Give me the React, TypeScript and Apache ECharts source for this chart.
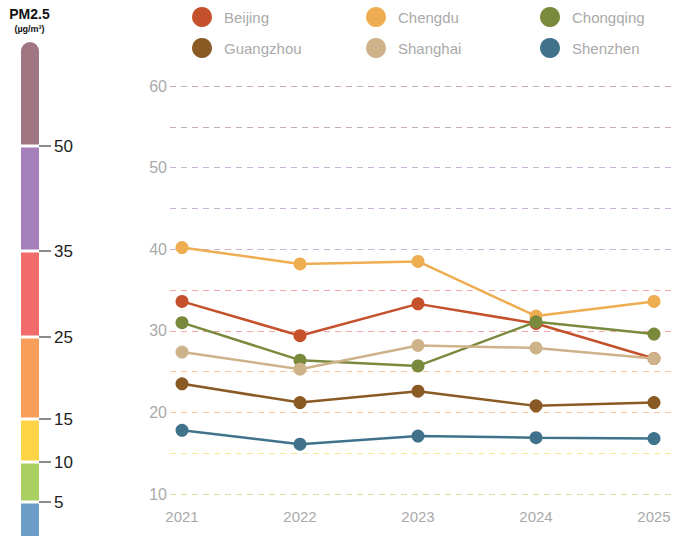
import React, { useEffect, useRef } from 'react';
import * as echarts from 'echarts';

const years = ['2021', '2022', '2023', '2024', '2025'];
const cities = ['Beijing', 'Chengdu', 'Chongqing', 'Guangzhou', 'Shanghai', 'Shenzhen'];
const beijing = [33.6, 29.4, 33.3, 30.9, 26.6];
const chengdu = [40.2, 38.2, 38.5, 31.8, 33.6];
const chongqing = [31.0, 26.4, 25.7, 31.1, 29.6];
const guangzhou = [23.5, 21.2, 22.6, 20.8, 21.2];
const shanghai = [27.4, 25.3, 28.2, 27.9, 26.6];
const shenzhen = [17.8, 16.1, 17.1, 16.9, 16.8];
const cityValues = [beijing, chengdu, chongqing, guangzhou, shanghai, shenzhen];
const cityColors = ['#c4512b', '#efad52', '#798a3d', '#8a5a25', '#ceb28a', '#40738b'];

const yMin = 10;
const yMax = 60;
const yGridStep = 5;
const yLabelStep = 10;

const pm25Thresholds = [5, 10, 15, 25, 35, 50];
const pm25BandColors = ['#6c9ec7', '#abd062', '#fed447', '#f99e58', '#f26b6b', '#a47fba', '#a07683'];

// layout of the colour-bar legend (pixel edges, bottom to top)
const BAR_EDGES = [560, 502, 462, 419, 337, 251, 146, 42];
const BAR_X = 21;
const BAR_W = 18;

const FONT = '"Liberation Sans", Arial, Helvetica, sans-serif';

function hexToRgba(hex: string, a: number) {
  const n = parseInt(hex.slice(1), 16);
  return `rgba(${(n >> 16) & 255},${(n >> 8) & 255},${n & 255},${a})`;
}

function bandIndex(v: number) {
  return pm25Thresholds.filter((t) => t < v).length;
}

export default function App() {
  const ref = useRef<HTMLDivElement>(null);
  useEffect(() => {
    document.body.style.margin = '0';
    if (!ref.current) return;
    const chart = echarts.init(ref.current, null, { renderer: 'svg' });

    const gridColors: string[] = [];
    for (let v = yMin; v <= yMax; v += yGridStep) {
      gridColors.push(hexToRgba(pm25BandColors[bandIndex(v)], 0.6));
    }

    const graphics: any[] = [];
    pm25BandColors.forEach((c, i) => {
      const bottom = BAR_EDGES[i];
      const top = BAR_EDGES[i + 1];
      const isTop = i === pm25BandColors.length - 1;
      const y0 = isTop ? top : top + 1.5;
      const y1 = bottom - 1.5;
      graphics.push({
        type: 'rect',
        shape: { x: BAR_X, y: y0, width: BAR_W, height: y1 - y0, r: isTop ? [9, 9, 0, 0] : 0 },
        style: { fill: c },
        silent: true,
      });
    });
    pm25Thresholds.forEach((t, j) => {
      const y = BAR_EDGES[j + 1];
      graphics.push({
        type: 'line',
        shape: { x1: BAR_X + BAR_W, y1: y, x2: BAR_X + BAR_W + 12, y2: y },
        style: { stroke: '#666', lineWidth: 1.5 },
        silent: true,
      });
      graphics.push({
        type: 'text',
        x: BAR_X + BAR_W + 15,
        y,
        style: {
          text: String(t),
          fill: '#222',
          font: `17px ${FONT}`,
          verticalAlign: 'middle',
          align: 'left',
        },
        silent: true,
      });
    });
    graphics.push({
      type: 'text',
      x: 29.5,
      y: 14,
      style: { text: 'PM2.5', fill: '#111', font: `bold 14px ${FONT}`, align: 'center', verticalAlign: 'middle' },
    });
    graphics.push({
      type: 'text',
      x: 29.5,
      y: 29,
      style: { text: '(µg/m³)', fill: '#111', font: `bold 9px ${FONT}`, align: 'center', verticalAlign: 'middle' },
    });

    const legendCols = [
      [cities[0], cities[3]],
      [cities[1], cities[4]],
      [cities[2], cities[5]],
    ];
    const legendLefts = [192, 366, 540];

    const option: any = {
      animation: false,
      grid: [
        { left: 170, right: 5, top: 86, bottom: 42 },
        { left: 182, right: 23, top: 86, bottom: 42 },
      ],
      xAxis: [
        { gridIndex: 0, type: 'category', data: years, show: false },
        {
          gridIndex: 1,
          type: 'category',
          data: years,
          boundaryGap: false,
          axisLine: { show: false },
          axisTick: { show: false },
          splitLine: { show: false },
          axisLabel: { color: '#aaa', fontSize: 15, margin: 15, fontFamily: FONT },
        },
      ],
      yAxis: [
        {
          gridIndex: 0,
          type: 'value',
          min: yMin,
          max: yMax,
          interval: yGridStep,
          axisLine: { show: false },
          axisTick: { show: false },
          axisLabel: {
            color: '#aaa',
            fontSize: 16,
            margin: 3,
            fontFamily: FONT,
            formatter: (v: number) => (v % yLabelStep === 0 ? String(v) : ''),
          },
          splitLine: { show: true, lineStyle: { color: gridColors, type: [6, 5], width: 1 } },
        },
        { gridIndex: 1, type: 'value', min: yMin, max: yMax, show: false, splitLine: { show: false } },
      ],
      legend: legendCols.map((col, i) => ({
        data: col,
        orient: 'vertical',
        left: legendLefts[i],
        top: 7,
        padding: 0,
        itemWidth: 20,
        itemHeight: 20,
        itemGap: 11,
        icon: 'circle',
        selectedMode: false,
        textStyle: { color: '#aaa', fontSize: 15, fontFamily: FONT, padding: [0, 0, 0, 7] },
      })),
      graphic: graphics,
      series: cities.map((name, i) => ({
        name,
        type: 'line',
        xAxisIndex: 1,
        yAxisIndex: 1,
        z: 2 + i * 0.01,
        data: cityValues[i],
        symbol: 'circle',
        symbolSize: 13,
        color: cityColors[i],
        lineStyle: { width: 2.5, color: cityColors[i] },
        itemStyle: { color: cityColors[i] },
      })),
    };
    chart.setOption(option);
    return () => chart.dispose();
  }, []);
  return <div ref={ref} style={{ width: 677, height: 536 }} />;
}
